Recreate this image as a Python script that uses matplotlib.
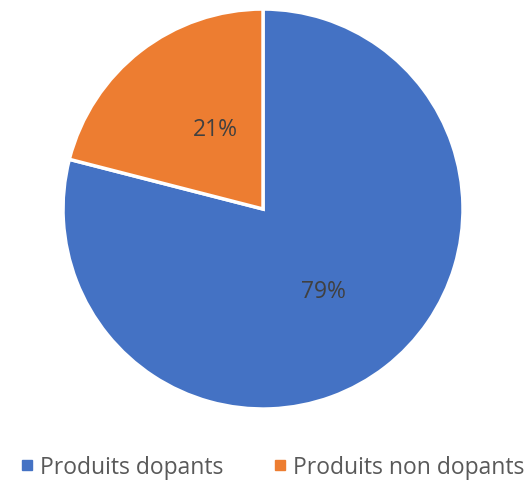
import matplotlib
matplotlib.use("Agg")
import matplotlib.pyplot as plt
from matplotlib.lines import Line2D

labels = ["Produits dopants", "Produits non dopants"]
values = [79, 21]
colors = ["#4472C4", "#ED7D31"]

fig = plt.figure(figsize=(5.3, 4.85), dpi=100)
ax = fig.add_axes([0.1189, 0.1546, 0.7547, 0.8247])
wedges, texts, autotexts = ax.pie(
    values, colors=colors, startangle=90, counterclock=False,
    autopct="%1.0f%%", pctdistance=0.5,
    wedgeprops=dict(edgecolor="white", linewidth=2.5),
    textprops=dict(color="#404040", fontsize=16.5, family="Open Sans"),
)
autotexts[0].set_position((0.30, -0.41))
autotexts[1].set_position((-0.24, 0.40))
ax.set_aspect("equal")
ax.set_xlim(-1, 1)
ax.set_ylim(-1, 1)
ax.axis("off")

handles = [Line2D([0], [0], marker="s", linestyle="none", markersize=6.5,
                  markerfacecolor=c, markeredgecolor=c) for c in colors]
fig.legend(handles, labels, loc="center", bbox_to_anchor=(270 / 530, 1 - 468 / 485),
           ncol=2, frameon=False, handletextpad=0.05, columnspacing=2.0,
           handlelength=1.0, prop=dict(size=16.5, family="Open Sans"), labelcolor="#595959")

fig.savefig("out.png", dpi=100)
